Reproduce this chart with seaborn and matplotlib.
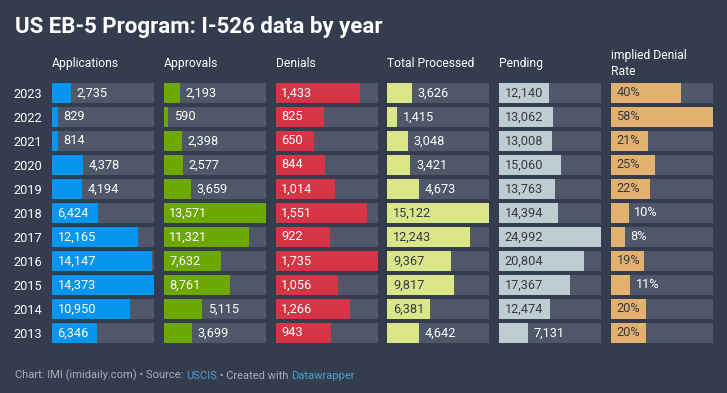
import matplotlib
matplotlib.use("Agg")
import matplotlib.pyplot as plt
import matplotlib.transforms as mtrans
import seaborn as sns

# data
years = ["2023", "2022", "2021", "2020", "2019", "2018", "2017", "2016", "2015", "2014", "2013"]
applications = [2735, 829, 814, 4378, 4194, 6424, 12165, 14147, 14373, 10950, 6346]
approvals = [2193, 590, 2398, 2577, 3659, 13571, 11321, 7632, 8761, 5115, 3699]
denials = [1433, 825, 650, 844, 1014, 1551, 922, 1735, 1056, 1266, 943]
total_processed = [3626, 1415, 3048, 3421, 4673, 15122, 12243, 9367, 9817, 6381, 4642]
pending = [12140, 13062, 13008, 15060, 13763, 14394, 24992, 20804, 17367, 12474, 7131]
denial_rate = [40, 58, 21, 25, 22, 10, 8, 19, 11, 20, 20]

headers = ["Applications", "Approvals", "Denials", "Total Processed", "Pending", "implied Denial\nRate"]

BG = "#333d4d"
TRACK = "#4f5868"
DARK = "#333a44"
columns = [
    (applications, "#0496ef", "white", "{:,}"),
    (approvals, "#6ca800", "white", "{:,}"),
    (denials, "#d73446", "white", "{:,}"),
    (total_processed, "#dbe689", DARK, "{:,}"),
    (pending, "#bfccd2", DARK, "{:,}"),
    (denial_rate, "#e2b170", DARK, "{}%"),
]

sns.set_theme(style="white")
plt.rcParams['font.family'] = ['Roboto', 'DejaVu Sans']

W, H = 727, 393
fig = plt.figure(figsize=(W / 100, H / 100), dpi=100, facecolor=BG)


def box(x, y, w, h):
    return [x / W, 1 - (y + h) / H, w / W, h / H]


fig.text(15 / W, 1 - 33 / H, "US EB-5 Program: I-526 data by year", color="white",
         fontsize=16, fontweight="bold", va="baseline")

renderer = fig.canvas.get_renderer()
for i, (vals, col, tcol, fmt) in enumerate(columns):
    left = 52 + 111.8 * i
    ax = fig.add_axes(box(left, 81, 102, 264))
    ax.set_facecolor("none")
    vmax = max(vals)
    sns.barplot(x=[vmax] * len(vals), y=years, color=TRACK, saturation=1, width=0.833,
                errorbar=None, linewidth=0, ax=ax)
    sns.barplot(x=vals, y=years, color=col, saturation=1, width=0.833,
                errorbar=None, linewidth=0, ax=ax)
    ax.set_xlim(0, vmax)
    ax.set_ylim(10.5, -0.5)
    sns.despine(ax=ax, left=True, bottom=True)
    ax.set_xticks([])
    ax.set_xlabel("")
    ax.set_ylabel("")
    if i == 0:
        ax.tick_params(axis="y", length=0, pad=7.2, labelcolor="white", labelsize=9.2)
    else:
        ax.set_yticks([])

    # label inside the bar when it fits, otherwise just past its end
    inside = mtrans.offset_copy(ax.transData, fig=fig, x=5.5, y=0, units="dots")
    for j, v in enumerate(vals):
        t = ax.text(0, j, fmt.format(v), color=tcol, fontsize=9.2, va="center",
                    ha="left", transform=inside)
        bar_px = v / vmax * 102
        if t.get_window_extent(renderer).width + 7.5 > bar_px:
            t.set_position((v, j))
            t.set_color("white")

    hy = 75 if "\n" in headers[i] else 67
    fig.text(left / W, 1 - hy / H, headers[i], color="white", fontsize=8.7,
             va="baseline", linespacing=1.25)

# footer with coloured links
ax0 = fig.add_axes([0, 0, 1, 1])
ax0.axis("off")
grey, blue = "#a7afba", "#4f9fcf"
parts = [("Chart: IMI (imidaily.com) \u2022 Source: ", grey), ("USCIS", blue),
         (" \u2022 Created with ", grey), ("Datawrapper", blue)]
prev = ax0.text(15 / W, 1 - 378 / H, parts[0][0], color=parts[0][1], fontsize=8,
                va="baseline", transform=ax0.transAxes)
for txt, c in parts[1:]:
    prev = ax0.annotate(txt, xy=(1, 0), xycoords=prev, va="bottom", ha="left",
                        color=c, fontsize=8)

fig.savefig("out.png", dpi=100, facecolor=BG)
